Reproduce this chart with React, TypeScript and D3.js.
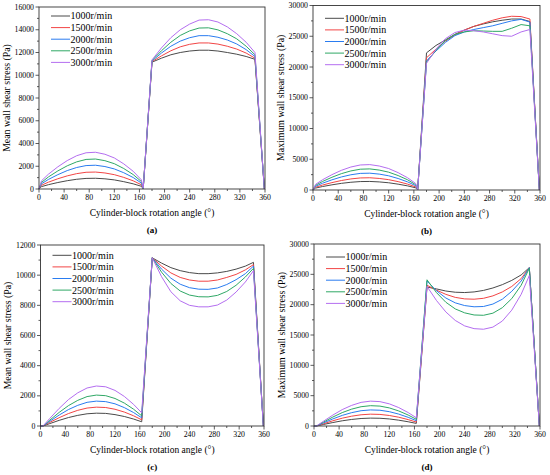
import * as d3 from "d3";

const speeds = ["1000r/min", "1500r/min", "2000r/min", "2500r/min", "3000r/min"];
const colors = ["#4a4a4a", "#f24545", "#2a7cf0", "#2fa866", "#b46ef0"];

// rotation angles (deg) where values were read
const anglesAB = [0, 4, 15, 30, 45, 60, 75, 90, 105, 120, 135, 150, 163, 166, 180, 195, 210, 225, 240, 255, 270, 285, 300, 315, 330, 344, 359];
const anglesCD = [0, 4, 15, 30, 45, 60, 75, 90, 105, 120, 135, 150, 163, 180, 195, 210, 225, 240, 255, 270, 285, 300, 315, 330, 343, 359];

// (a) mean wall shear stress
const meanA = [
  [0, 210, 380, 570, 730, 855, 930, 945, 895, 800, 645, 455, 240, 20, 11150, 11500, 11800, 12000, 12130, 12200, 12200, 12130, 12000, 11850, 11650, 11400, 0],
  [0, 330, 600, 900, 1155, 1350, 1470, 1490, 1410, 1260, 1020, 720, 375, 30, 11200, 11700, 12150, 12500, 12720, 12840, 12840, 12740, 12550, 12300, 11950, 11500, 0],
  [0, 460, 840, 1260, 1620, 1890, 2060, 2090, 1975, 1765, 1430, 1010, 525, 40, 11250, 11950, 12550, 13000, 13300, 13480, 13480, 13340, 13100, 12750, 12250, 11650, 0],
  [0, 580, 1060, 1590, 2040, 2385, 2600, 2635, 2490, 2225, 1800, 1270, 660, 50, 11300, 12150, 12900, 13500, 13900, 14150, 14170, 13990, 13650, 13200, 12550, 11800, 0],
  [0, 720, 1300, 1950, 2500, 2925, 3185, 3230, 3055, 2730, 2210, 1560, 810, 60, 11350, 12400, 13300, 14000, 14500, 14850, 14880, 14680, 14250, 13650, 12900, 12000, 0],
];

// (b) maximum wall shear stress
const maxB = [
  [0, 310, 560, 840, 1080, 1260, 1370, 1390, 1315, 1175, 950, 670, 350, 20, 22300, 23500, 24400, 25300, 26000, 26600, 27000, 27350, 27600, 27800, 27800, 27400, 0],
  [0, 440, 800, 1200, 1540, 1800, 1960, 1990, 1880, 1680, 1360, 960, 500, 30, 21500, 22900, 24200, 25200, 26000, 26600, 27100, 27600, 28000, 28250, 28200, 27800, 0],
  [0, 600, 1100, 1650, 2120, 2475, 2700, 2735, 2585, 2310, 1870, 1320, 690, 40, 21000, 22600, 24000, 25100, 25700, 26100, 26400, 26700, 27100, 27500, 27750, 27300, 0],
  [0, 760, 1380, 2070, 2660, 3100, 3380, 3430, 3240, 2900, 2350, 1660, 860, 50, 20800, 22700, 24300, 25300, 25700, 25900, 25850, 25800, 25800, 26300, 26900, 26700, 0],
  [0, 910, 1660, 2490, 3200, 3735, 4070, 4130, 3900, 3490, 2820, 1990, 1040, 60, 20600, 22900, 24600, 25600, 26000, 25900, 25700, 25400, 25100, 25000, 25700, 26100, 0],
];

// (c) mean wall shear stress
const meanC = [
  [0, 0, 160, 375, 560, 705, 810, 850, 835, 755, 630, 460, 280, 11150, 10800, 10500, 10300, 10170, 10100, 10100, 10150, 10250, 10400, 10600, 10850, 0],
  [0, 0, 240, 550, 825, 1040, 1190, 1250, 1225, 1110, 925, 675, 410, 11150, 10600, 10150, 9850, 9680, 9600, 9600, 9680, 9850, 10050, 10350, 10700, 0],
  [0, 0, 315, 725, 1090, 1370, 1570, 1650, 1615, 1470, 1220, 890, 545, 11150, 10400, 9800, 9400, 9170, 9070, 9060, 9150, 9380, 9700, 10100, 10600, 0],
  [0, 0, 390, 900, 1350, 1700, 1950, 2050, 2010, 1825, 1520, 1110, 675, 11150, 10200, 9450, 8950, 8680, 8570, 8560, 8660, 8920, 9330, 9880, 10450, 0],
  [0, 0, 505, 1165, 1750, 2200, 2520, 2650, 2600, 2360, 1960, 1430, 875, 11150, 9900, 8900, 8300, 8000, 7900, 7900, 8020, 8350, 8880, 9550, 10300, 0],
];

// (d) maximum wall shear stress
const maxD = [
  [0, 0, 250, 570, 860, 1080, 1235, 1300, 1275, 1160, 960, 700, 430, 22900, 22600, 22250, 22050, 22000, 22100, 22350, 22750, 23300, 24000, 24900, 26100, 0],
  [0, 0, 370, 860, 1290, 1620, 1850, 1950, 1910, 1735, 1445, 1055, 645, 23200, 22400, 21700, 21200, 20950, 20900, 21050, 21450, 22100, 23000, 24300, 26100, 0],
  [0, 0, 505, 1165, 1750, 2200, 2520, 2650, 2600, 2360, 1960, 1430, 875, 23900, 22300, 21100, 20300, 19850, 19650, 19700, 20100, 20900, 22200, 23900, 26100, 0],
  [0, 0, 635, 1475, 2210, 2780, 3180, 3350, 3280, 2980, 2480, 1810, 1105, 24100, 22000, 20400, 19300, 18650, 18300, 18250, 18600, 19500, 21000, 23200, 26000, 0],
  [0, 0, 780, 1800, 2705, 3400, 3895, 4100, 4020, 3650, 3035, 2215, 1355, 23000, 20700, 18800, 17400, 16500, 16050, 15950, 16300, 17300, 19100, 21700, 24800, 0],
];

const panels = [
  { tag: "(a)", yTitle: "Mean wall shear stress (Pa)", yMax: 16000, yStep: 2000, angles: anglesAB, data: meanA, x0: 39, x1: 265, y0: 7, y1: 189, legDy: 9 },
  { tag: "(b)", yTitle: "Maximum wall shear stress (Pa)", yMax: 30000, yStep: 5000, angles: anglesAB, data: maxB, x0: 313, x1: 540, y0: 5.5, y1: 190, legDy: 12.8 },
  { tag: "(c)", yTitle: "Mean wall shear stress (Pa)", yMax: 12000, yStep: 2000, angles: anglesCD, data: meanC, x0: 40.5, x1: 264, y0: 245, y1: 426, legDy: 10.3 },
  { tag: "(d)", yTitle: "Maximum wall shear stress (Pa)", yMax: 30000, yStep: 5000, angles: anglesCD, data: maxD, x0: 314, x1: 540, y0: 244, y1: 426, legDy: 13 },
];

const font = "'Liberation Serif', 'Times New Roman', serif";
const axisColor = "#333";

function Panel({ p }: { p: (typeof panels)[number] }) {
  const x = d3.scaleLinear().domain([0, 360]).range([p.x0, p.x1]);
  const y = d3.scaleLinear().domain([0, p.yMax]).range([p.y1, p.y0]);
  const line = d3
    .line<number>()
    .x((_, i) => x(p.angles[i]))
    .y((v) => y(v))
    .curve(d3.curveLinear);
  const xMajor = d3.range(0, 361, 40);
  const xMinor = d3.range(20, 360, 40);
  const yMajor = d3.range(0, p.yMax + 1, p.yStep);
  const yMinor = d3.range(p.yStep / 2, p.yMax, p.yStep);
  const cx = (p.x0 + p.x1) / 2;
  const cy = (p.y0 + p.y1) / 2;

  return (
    <g fontFamily={font} fill="#000">
      {p.data.map((s, i) => (
        <path key={i} d={line(s) ?? ""} fill="none" stroke={colors[i]} strokeWidth={1} />
      ))}
      <rect x={p.x0} y={p.y0} width={p.x1 - p.x0} height={p.y1 - p.y0} fill="none" stroke={axisColor} strokeWidth={0.9} />
      {xMajor.map((t) => (
        <g key={"xm" + t}>
          <line x1={x(t)} x2={x(t)} y1={p.y1} y2={p.y1 + 3.5} stroke={axisColor} strokeWidth={0.8} />
          <text x={x(t)} y={p.y1 + 11} fontSize={7.8} textAnchor="middle">{t}</text>
        </g>
      ))}
      {xMinor.map((t) => (
        <line key={"xn" + t} x1={x(t)} x2={x(t)} y1={p.y1} y2={p.y1 + 2} stroke={axisColor} strokeWidth={0.8} />
      ))}
      {yMajor.map((t) => (
        <g key={"ym" + t}>
          <line x1={p.x0 - 3.5} x2={p.x0} y1={y(t)} y2={y(t)} stroke={axisColor} strokeWidth={0.8} />
          <text x={p.x0 - 5} y={y(t) + 2.6} fontSize={7.8} textAnchor="end">{t}</text>
        </g>
      ))}
      {yMinor.map((t) => (
        <line key={"yn" + t} x1={p.x0 - 2} x2={p.x0} y1={y(t)} y2={y(t)} stroke={axisColor} strokeWidth={0.8} />
      ))}
      <text x={cx} y={p.y1 + 27} fontSize={9.5} textAnchor="middle">Cylinder-block rotation angle (°)</text>
      <text transform={`translate(${p.x0 - 29.5},${cy}) rotate(-90)`} fontSize={9.8} textAnchor="middle">{p.yTitle}</text>
      <text x={cx} y={p.y1 + 44} fontSize={9} fontWeight="bold" textAnchor="middle">{p.tag}</text>
      {speeds.map((s, i) => {
        const ly = p.y0 + p.legDy + i * 11.6;
        return (
          <g key={s}>
            <line x1={p.x0 + 12} x2={p.x0 + 31} y1={ly} y2={ly} stroke={colors[i]} strokeWidth={1} />
            <text x={p.x0 + 31.5} y={ly + 3.4} fontSize={10}>{s}</text>
          </g>
        );
      })}
    </g>
  );
}

export default function App() {
  return (
    <div style={{ position: "absolute", left: 0, top: 0 }}>
      <svg width={550} height={475} style={{ display: "block", background: "#fff" }}>
        {panels.map((p) => (
          <Panel key={p.tag} p={p} />
        ))}
      </svg>
    </div>
  );
}
